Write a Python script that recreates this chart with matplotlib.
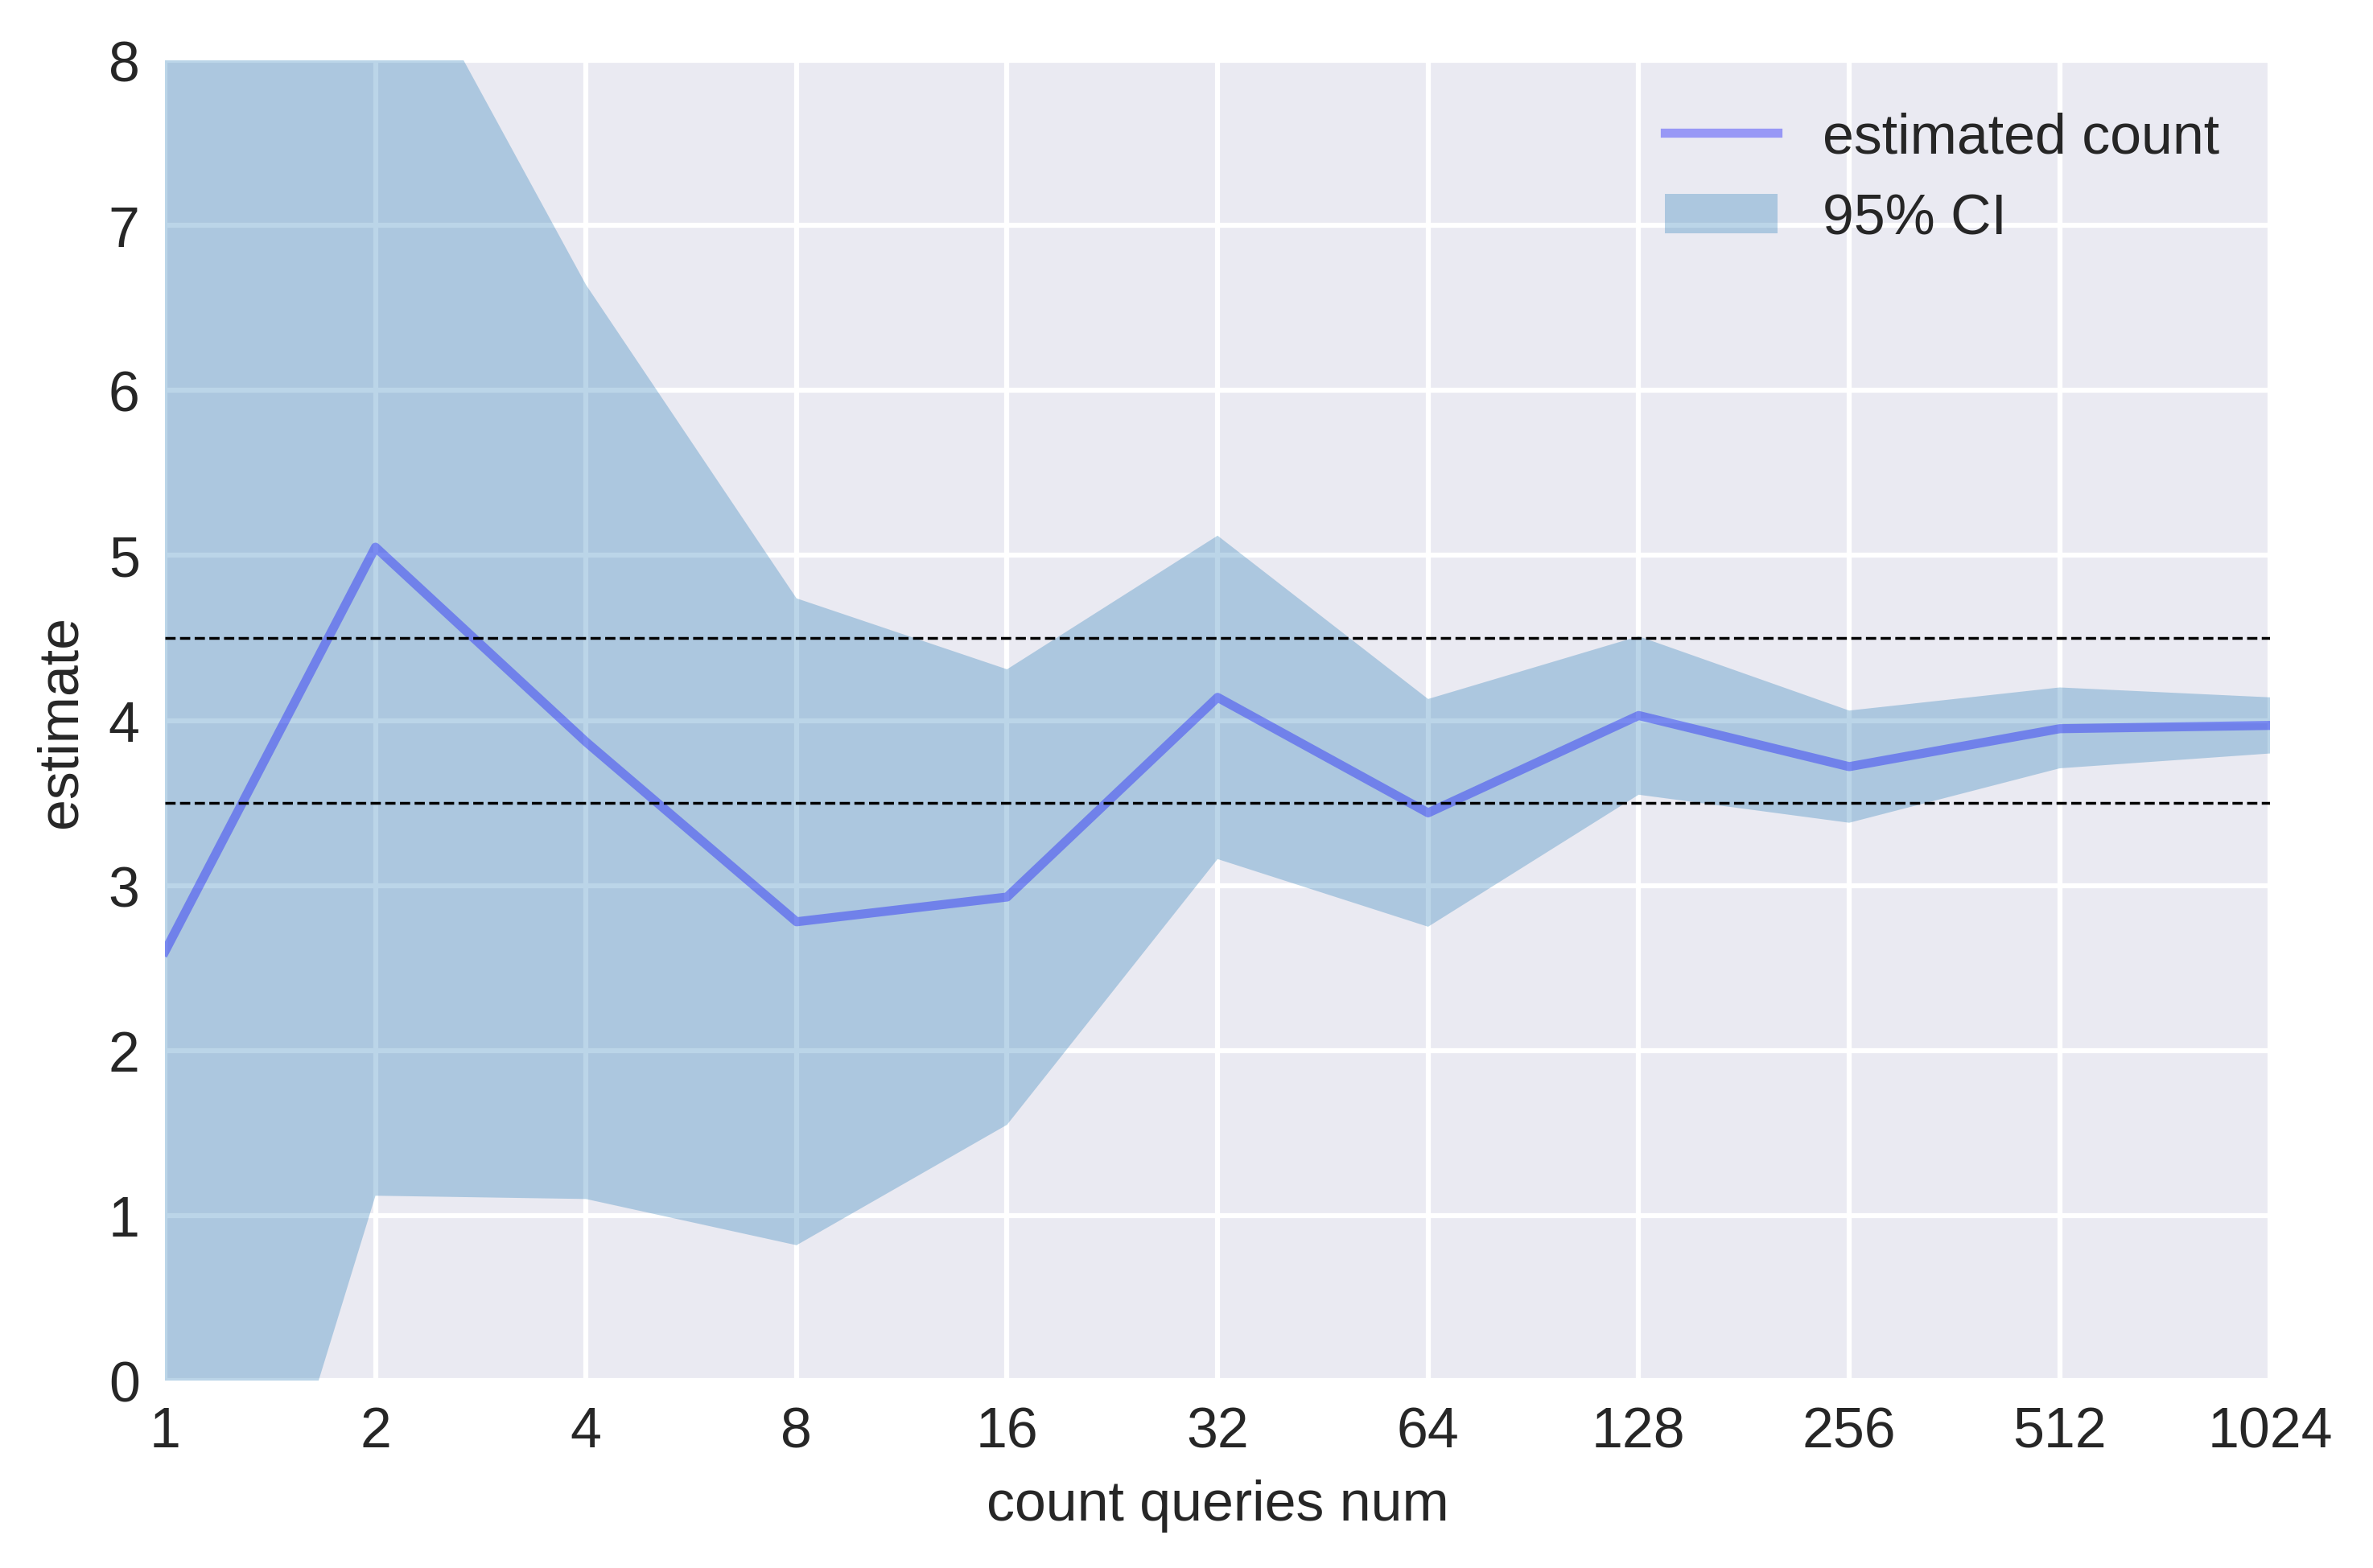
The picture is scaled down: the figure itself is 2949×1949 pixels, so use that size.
import numpy as np
import matplotlib
matplotlib.use("Agg")
import matplotlib.pyplot as plt

# data
queries = [1, 2, 4, 8, 16, 32, 64, 128, 256, 512, 1024]
estimate = [2.60, 5.05, 3.87, 2.78, 2.93, 4.14, 3.44, 4.03, 3.72, 3.95, 3.97]
ci_low = [-3.03, 1.12, 1.10, 0.82, 1.55, 3.16, 2.75, 3.55, 3.38, 3.71, 3.80]
ci_high = [8.23, 8.98, 6.64, 4.74, 4.31, 5.12, 4.13, 4.51, 4.06, 4.20, 4.14]
band = [3.5, 4.5]

# old seaborn darkgrid look
plt.rcParams.update({
    "font.family": ["Liberation Sans", "DejaVu Sans"],
    "axes.facecolor": "#EAEAF2",
    "axes.edgecolor": "white",
    "axes.grid": True,
    "grid.color": "white",
    "grid.linewidth": 1.0,
    "axes.axisbelow": True,
    "axes.labelcolor": "#262626",
    "text.color": "#262626",
    "xtick.color": "#262626",
    "ytick.color": "#262626",
    "xtick.major.size": 0,
    "ytick.major.size": 0,
    "font.size": 11.2,
    "axes.labelsize": 11.2,
    "xtick.labelsize": 11.2,
    "ytick.labelsize": 11.2,
    "legend.fontsize": 11.2,
})

fig = plt.figure(figsize=(2949 / 450, 1950 / 450), dpi=450)
ax = fig.add_axes([0.0695, 0.1195, 0.8872, 0.8415])
for s in ax.spines.values():
    s.set_visible(False)

ax.plot(queries, estimate, color="b", alpha=0.35, lw=1.8, label="estimated count")
ax.fill_between(queries, ci_low, ci_high, color="#1f77b4", alpha=0.3, lw=0, label="95% CI")
for y in band:
    ax.axhline(y, color="k", ls="--", lw=0.55)

ax.set_xscale("log", base=2)
ax.set_xticks(queries)
ax.set_xticklabels([str(q) for q in queries])
ax.minorticks_off()
ax.set_xlim(1, 1024)
ax.set_ylim(0, 8)
ax.set_yticks(range(0, 9))
ax.tick_params(axis="x", pad=5)
ax.tick_params(axis="y", pad=5)

ax.set_xlabel("count queries num")
ax.set_ylabel("estimate")
ax.legend(loc="upper right", frameon=False, borderaxespad=0.5)

fig.savefig("out.png", dpi=450)
